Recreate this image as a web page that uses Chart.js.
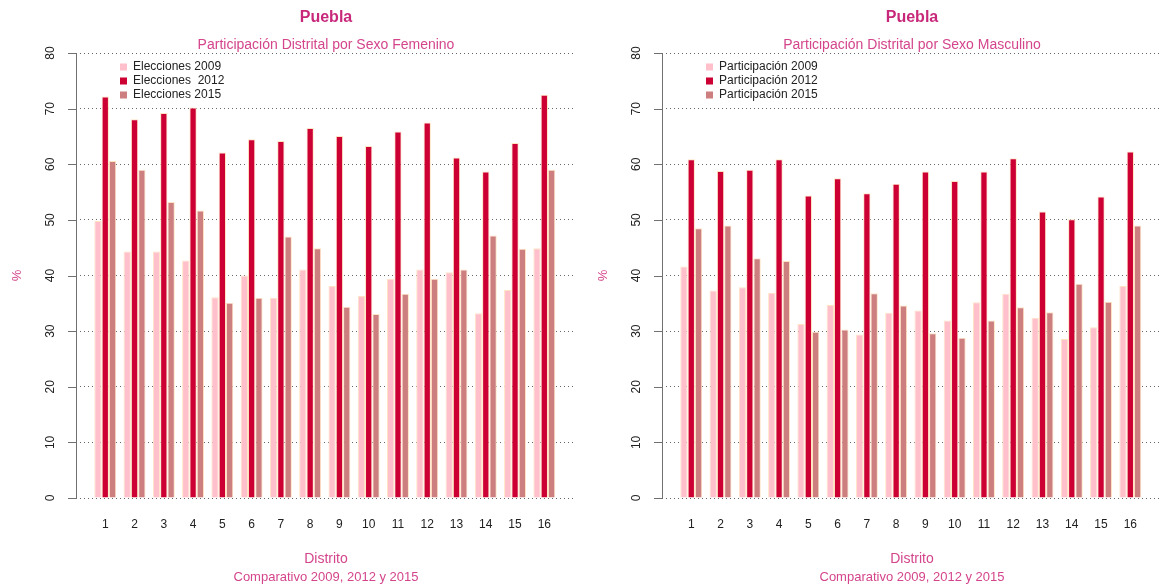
<!DOCTYPE html>
<html>
<head>
<meta charset="utf-8">
<script src="https://cdn.jsdelivr.net/npm/chart.js@4/dist/chart.umd.min.js"></script>
<style>
  body { margin: 0; background: #fff; width: 1161px; height: 588px; overflow: hidden; position: relative; }
  canvas { position: absolute; top: 0; }
</style>
</head>
<body>
<canvas id="femChart" width="586" height="588" style="left:0"></canvas>
<canvas id="masChart" width="576" height="588" style="left:586px"></canvas>
<script>
// data
const distritos = ["1", "2", "3", "4", "5", "6", "7", "8", "9", "10", "11", "12", "13", "14", "15", "16"];
const yTicks = [0, 10, 20, 30, 40, 50, 60, 70, 80];

const fem2009 = [49.8, 44.3, 44.3, 42.7, 36.1, 40.0, 36.0, 41.1, 38.1, 36.3, 39.4, 41.1, 40.6, 33.2, 37.4, 44.9];
const fem2012 = [72.2, 68.1, 69.2, 70.2, 62.1, 64.5, 64.2, 66.5, 65.1, 63.3, 65.9, 67.5, 61.2, 58.7, 63.8, 72.5];
const fem2015 = [60.6, 59.0, 53.2, 51.7, 35.1, 36.0, 47.0, 44.9, 34.4, 33.1, 36.7, 39.4, 41.1, 47.2, 44.8, 59.0];

const mas2009 = [41.6, 37.3, 37.9, 36.9, 31.3, 34.7, 29.4, 33.3, 33.7, 31.9, 35.2, 36.7, 32.4, 28.6, 30.7, 38.1];
const mas2012 = [60.9, 58.8, 59.0, 60.9, 54.4, 57.5, 54.8, 56.5, 58.7, 57.0, 58.7, 61.1, 51.5, 50.1, 54.2, 62.3];
const mas2015 = [48.5, 49.0, 43.1, 42.6, 29.9, 30.3, 36.8, 34.6, 29.6, 28.8, 31.9, 34.3, 33.4, 38.5, 35.3, 49.0];

const femLabels = ["Elecciones 2009", "Elecciones  2012", "Elecciones 2015"];
const masLabels = ["Participación 2009", "Participación 2012", "Participación 2015"];

const barColors = ["#FFC0CB", "#CC0033", "#CD7F7F"];
const pink = "#D4458C";
const FONT = '"Liberation Sans", Arial, sans-serif';

// group centres on a linear axis, R barplot style (3 bars + 1 gap per group)
const xPos = distritos.map((d, i) => 2.5 + 4 * i);

const decor = {
  id: "decor",
  afterDraw(chart, args, opts) {
    const { ctx, chartArea, scales: { x, y } } = chart;
    const left = chartArea.left;
    const cx = (chartArea.left + chartArea.right) / 2;
    ctx.save();

    // y axis line + ticks
    ctx.strokeStyle = "#707070";
    ctx.lineWidth = 1;
    ctx.beginPath();
    ctx.moveTo(left + 0.5, Math.round(y.getPixelForValue(yTicks[0])) + 0.5);
    ctx.lineTo(left + 0.5, Math.round(y.getPixelForValue(yTicks[yTicks.length - 1])) + 0.5);
    yTicks.forEach((t) => {
      const py = Math.round(y.getPixelForValue(t)) + 0.5;
      ctx.moveTo(left + 0.5, py);
      ctx.lineTo(left - 8, py);
    });
    ctx.stroke();

    // y tick labels, rotated like R
    ctx.fillStyle = "#222";
    ctx.font = "12px " + FONT;
    ctx.textAlign = "center";
    ctx.textBaseline = "middle";
    yTicks.forEach((t) => {
      ctx.save();
      ctx.translate(left - 25, y.getPixelForValue(t));
      ctx.rotate(-Math.PI / 2);
      ctx.fillText(String(t), 0, 0);
      ctx.restore();
    });

    // x labels
    distritos.forEach((d, i) => {
      ctx.fillText(d, x.getPixelForValue(xPos[i]), 525);
    });

    // y title
    ctx.fillStyle = pink;
    ctx.font = "13px " + FONT;
    ctx.save();
    ctx.translate(left - 59, (chartArea.top + chartArea.bottom) / 2);
    ctx.rotate(-Math.PI / 2);
    ctx.fillText("%", 0, 0);
    ctx.restore();

    // titles
    ctx.fillStyle = "#C8287A";
    ctx.font = "bold 16px " + FONT;
    ctx.fillText("Puebla", cx, 18);
    ctx.fillStyle = pink;
    ctx.font = "14px " + FONT;
    ctx.fillText(opts.subtitle, cx, 45);
    ctx.fillText("Distrito", cx, 559);
    ctx.font = "13px " + FONT;
    ctx.fillText("Comparativo 2009, 2012 y 2015", cx, 577);

    // legend
    ctx.font = "12px " + FONT;
    ctx.textAlign = "left";
    chart.data.datasets.forEach((ds, i) => {
      const ly = 67 + i * 14;
      ctx.fillStyle = ds.backgroundColor;
      ctx.fillRect(left + 44, ly - 3.5, 7, 7);
      ctx.fillStyle = "#222";
      ctx.fillText(ds.label, left + 57, ly);
    });
    ctx.restore();
  },
};

function makeChart(id, series, labels, subtitle) {
  const ctx = document.getElementById(id).getContext("2d");
  const width = ctx.canvas.width;
  return new Chart(ctx, {
    type: "bar",
    data: {
      datasets: series.map((vals, k) => ({
        label: labels[k],
        data: vals.map((v, i) => ({ x: xPos[i], y: v })),
        backgroundColor: barColors[k],
        borderColor: "#FFE4C4",
        borderWidth: 1,
        categoryPercentage: 0.75,
        barPercentage: 1,
      })),
    },
    options: {
      responsive: false,
      animation: false,
      layout: {
        padding: { left: 76, top: 53, right: width - 576, bottom: 90 },
      },
      plugins: {
        legend: { display: false },
        tooltip: { enabled: false },
        decor: { subtitle: subtitle },
      },
      scales: {
        x: {
          type: "linear",
          display: false,
          offset: false,
          min: -1.5,
          max: 66.83,
          afterBuildTicks: (scale) => {
            scale.ticks = xPos.map((v) => ({ value: v }));
          },
        },
        y: {
          min: 0,
          max: 80,
          afterFit: (scale) => {
            scale.width = 0;
          },
          afterBuildTicks: (scale) => {
            scale.ticks = yTicks.map((v) => ({ value: v }));
          },
          ticks: { display: false },
          border: { display: false, dash: [1, 3] },
          grid: { color: "#666", lineWidth: 1, drawTicks: false },
        },
      },
    },
    plugins: [decor],
  });
}

makeChart("femChart", [fem2009, fem2012, fem2015], femLabels, "Participación Distrital por Sexo Femenino");
makeChart("masChart", [mas2009, mas2012, mas2015], masLabels, "Participación Distrital por Sexo Masculino");
</script>
</body>
</html>
